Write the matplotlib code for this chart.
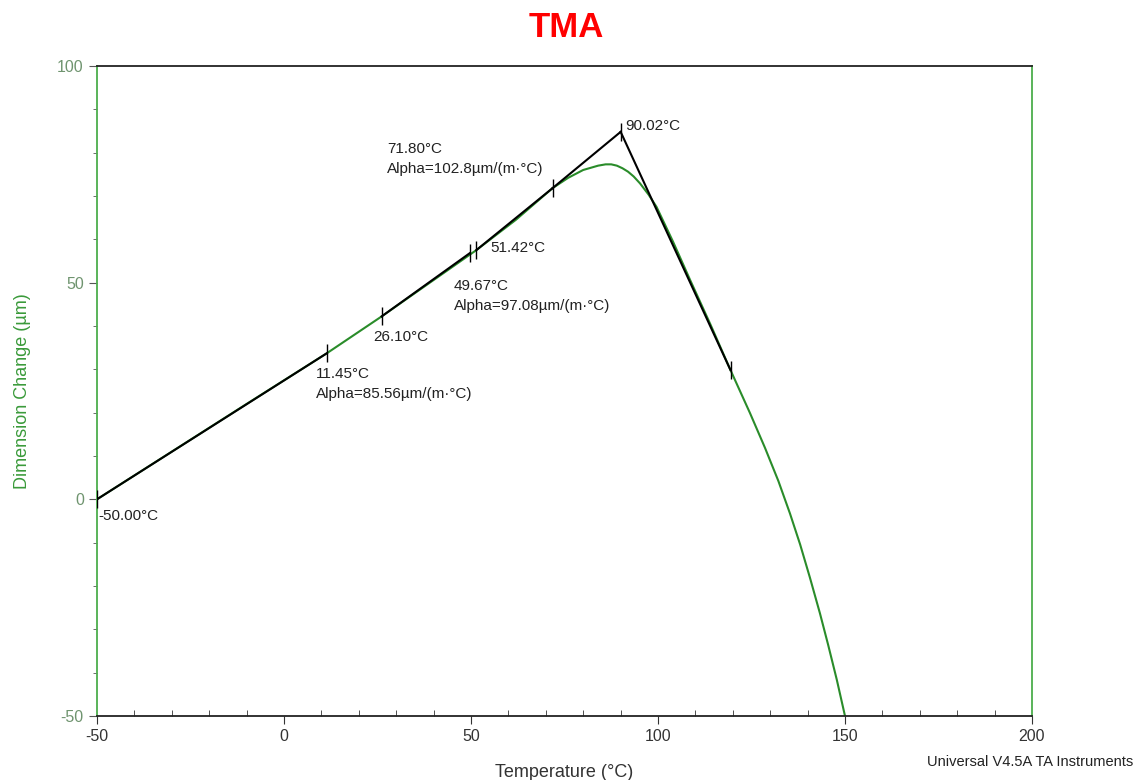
import matplotlib
matplotlib.use('Agg')
import matplotlib.pyplot as plt
from matplotlib.ticker import MultipleLocator

plt.rcParams['font.family'] = ['Liberation Sans', 'DejaVu Sans']
plt.rcParams['axes.unicode_minus'] = False

# ------------------------- data ---------------------------
# measured TMA curve (read off the picture)
temp = [-50, -30, -10, 11.45, 18, 26.1, 40, 51.42, 62, 71.8, 76, 80, 84, 86, 87.5,
        89, 90.5, 92, 93.5, 95.2, 97.5, 99.6, 104, 108.6, 114, 119.4, 124.6, 128.6,
        132.2, 135.3, 138.0, 140.6, 143.3, 145.5, 147.8, 150]
dim = [0, 11, 22, 33.7, 37.5, 42.2, 50.6, 57.5, 64.5, 71.8, 74.2, 76.0, 77.0, 77.3, 77.3,
       77.0, 76.4, 75.6, 74.5, 72.9, 70.3, 67.5, 59.5, 50.6, 40.4, 29.8, 19.9, 11.9,
       4.2, -3.3, -10.4, -18.0, -26.3, -33.6, -41.6, -50]

# tangent / fit segments
fit_T = [[-50, 11.45], [26.10, 49.67], [51.42, 71.80], [71.80, 90.02], [90.02, 119.4]]
fit_D = [[0, 33.7], [42.2, 56.8], [57.5, 71.8], [71.8, 84.8], [84.8, 29.8]]

# cursor marks
mark_T = [-50, 11.45, 26.10, 49.67, 51.42, 71.80, 90.02, 119.4]
mark_D = [0, 33.7, 42.2, 56.8, 57.5, 71.8, 84.8, 29.8]

# annotations (text, x, y)
notes = [('-50.00°C', -49.5, -3.9),
         ('11.45°C', 8.6, 28.9),
         ('Alpha=85.56µm/(m·°C)', 8.6, 24.3),
         ('26.10°C', 23.8, 37.5),
         ('49.67°C', 45.4, 49.2),
         ('Alpha=97.08µm/(m·°C)', 45.4, 44.6),
         ('51.42°C', 55.1, 58.0),
         ('71.80°C', 27.5, 80.8),
         ('Alpha=102.8µm/(m·°C)', 27.5, 76.2),
         ('90.02°C', 91.2, 86.2)]

green = '#2a8c2a'
spine_green = '#4cae4c'

# ------------------------- plot ---------------------------
fig = plt.figure(figsize=(11.45, 7.8), dpi=100)
ax = fig.add_axes([0.0847, 0.0821, 0.8166, 0.8333])

ax.plot(temp, dim, color=green, lw=1.5, zorder=2)
for t, d in zip(fit_T, fit_D):
    ax.plot(t, d, color='black', lw=1.5, zorder=3)
ax.plot(mark_T, mark_D, ls='none', marker='|', markersize=13, mew=1.0, color='black', zorder=4)

for s, x, y in notes:
    ax.text(x, y, s, fontsize=11, color='#222222', ha='left', va='center')

ax.set_xlim(-50, 200)
ax.set_ylim(-50, 100)
ax.xaxis.set_major_locator(MultipleLocator(50))
ax.xaxis.set_minor_locator(MultipleLocator(10))
ax.yaxis.set_major_locator(MultipleLocator(50))
ax.yaxis.set_minor_locator(MultipleLocator(10))

ax.tick_params(axis='x', which='major', direction='out', length=6, labelsize=11.5,
               labelcolor='#333333', color='#333333')
ax.tick_params(axis='x', which='minor', direction='in', length=4, color='#333333')
ax.tick_params(axis='y', which='major', direction='out', length=6, labelsize=11.5,
               labelcolor='#6f946f', color='#555555')
ax.tick_params(axis='y', which='minor', direction='out', length=3, color='#555555')

ax.spines['left'].set_color(spine_green)
ax.spines['right'].set_color(spine_green)
ax.spines['top'].set_color('#222222')
ax.spines['bottom'].set_color('#222222')
for sp in ax.spines.values():
    sp.set_linewidth(1.3)

ax.set_xlabel('Temperature (°C)', fontsize=13, color='#333333', labelpad=14)
ax.set_ylabel('Dimension Change (µm)', fontsize=13, color='#3a9a3a', labelpad=19)

fig.text(0.495, 0.965, 'TMA', fontsize=25, fontweight='bold', color='#ff0000',
         ha='center', va='center')
fig.text(0.99, 0.023, 'Universal V4.5A TA Instruments', fontsize=10.5, color='#222222',
         ha='right', va='center')

plt.savefig('out.png', dpi=100)
plt.close()
